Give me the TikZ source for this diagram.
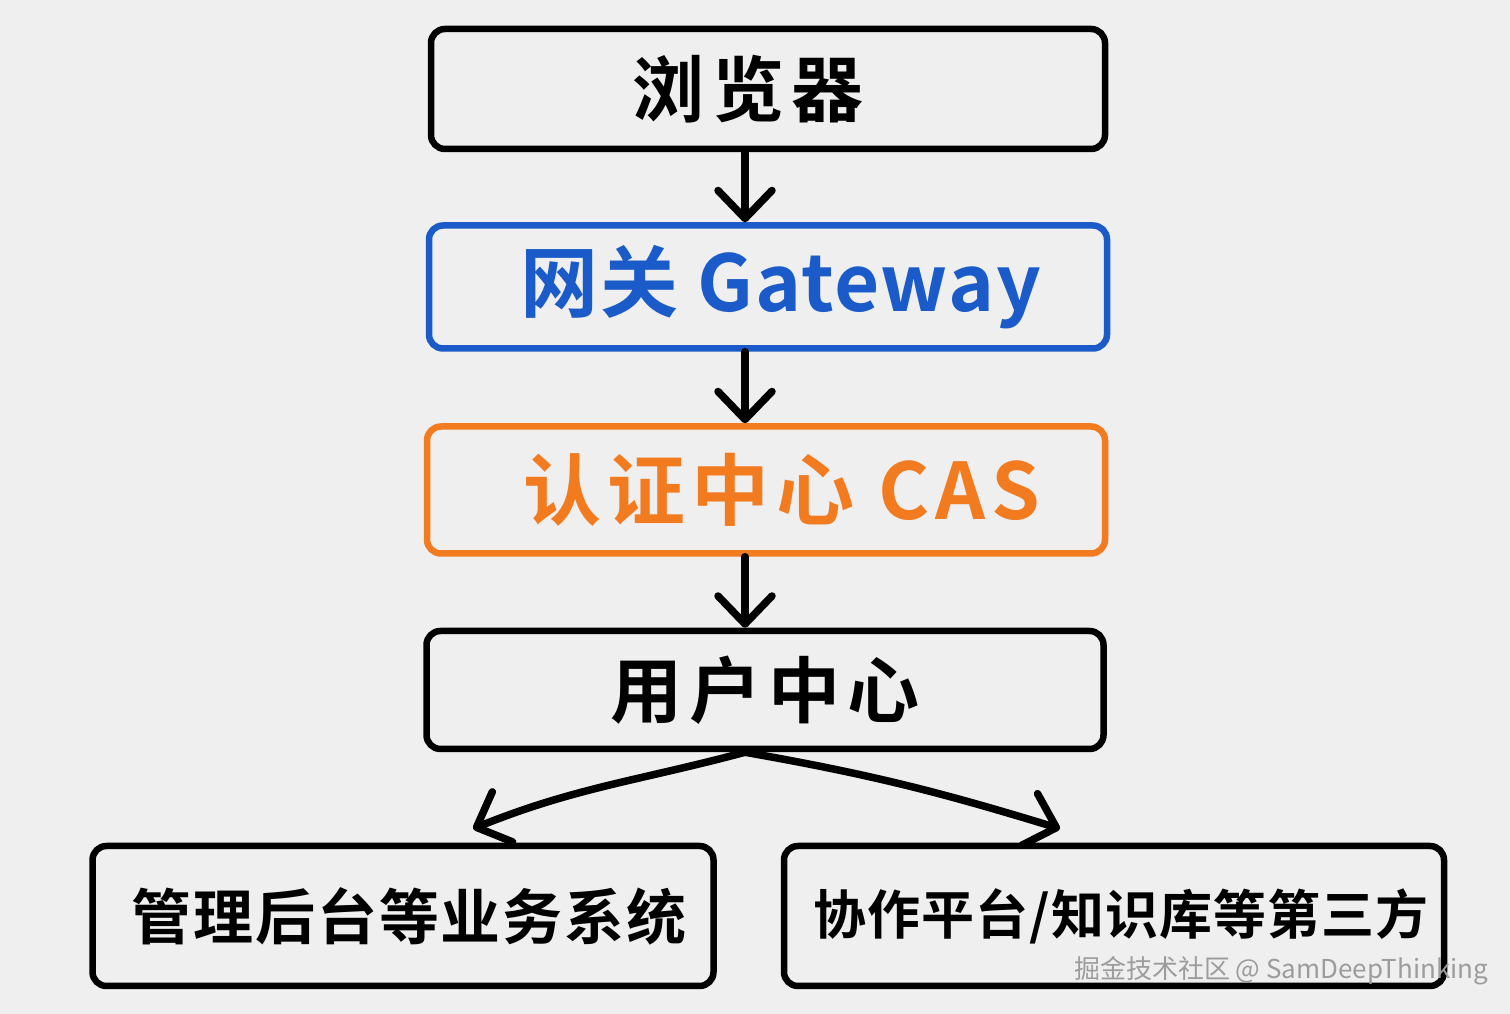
\documentclass[tikz,border=0pt]{standalone}
\usepackage{fontspec}
\setmainfont{Noto Sans CJK SC}[BoldFont={Noto Sans CJK SC Bold}]
\usetikzlibrary{arrows.meta}
\definecolor{gwblue}{HTML}{1A5BC9}
\definecolor{casorange}{HTML}{F27A1F}
\definecolor{paper}{HTML}{EFEFEF}
\definecolor{markgray}{HTML}{9C9C9C}

\begin{document}
\begin{tikzpicture}[
    x=1pt, y=1pt,
    box/.style={draw=black, line width=6.5pt, rounded corners=14pt, inner sep=0pt,
        font=\bfseries\fontsize{#1}{#1}\selectfont},
    box/.default=72,
    link/.style={line width=7.5pt, line cap=round,
        -{Straight Barb[length=28pt, width=54pt, line width=7.5pt, round]}}
]
    \fill[paper] (0,0) rectangle (1510,1014);
    \useasboundingbox (0,0) rectangle (1510,1014);
    \coordinate (spine) at (745,0);

    \node[box, minimum width=674pt, minimum height=120pt] (browser) at (768,925)
        {\hspace{-40pt}\addfontfeatures{LetterSpace=10}浏览器};
    \node[box=78, draw=gwblue, text=gwblue, minimum width=678pt, minimum height=123pt] (gateway) at (768,727)
        {\hspace{26pt}\addfontfeatures{LetterSpace=2}网关 Gateway};
    \node[box=78, draw=casorange, text=casorange, minimum width=678pt, minimum height=127pt] (cas) at (766,524)
        {\hspace{32pt}\addfontfeatures{LetterSpace=8}认证中心 CAS};
    \node[box, minimum width=677pt, minimum height=118pt] (user) at (765,324)
        {\addfontfeatures{LetterSpace=10}用户中心};
    \node[box=60, minimum width=621pt, minimum height=140pt] (admin) at (403,98)
        {\hspace{12pt}\addfontfeatures{LetterSpace=3}管理后台等业务系统};
    \node[box=53, minimum width=660pt, minimum height=140pt] (third) at (1114,98)
        {\hspace{14pt}\addfontfeatures{LetterSpace=2}协作平台/知识库等第三方};

    % straight chain
    \foreach \a/\b in {browser/gateway, gateway/cas, cas/user}
        \draw[link] (\a.south -| spine) -- (\b.north -| spine);

    % fork to the two kinds of systems
    \draw[link] (user.south -| spine) to[out=195, in=22] ([xshift=70pt, yshift=14pt]admin.north);
    \draw[link] (user.south -| spine) to[out=-10, in=163] ([xshift=-54pt, yshift=14pt]third.north);

    \node[text=markgray, font=\fontsize{26}{26}\selectfont] (mark) at (1281,43) {掘金技术社区 @ SamDeepThinking};
\end{tikzpicture}
\end{document}
